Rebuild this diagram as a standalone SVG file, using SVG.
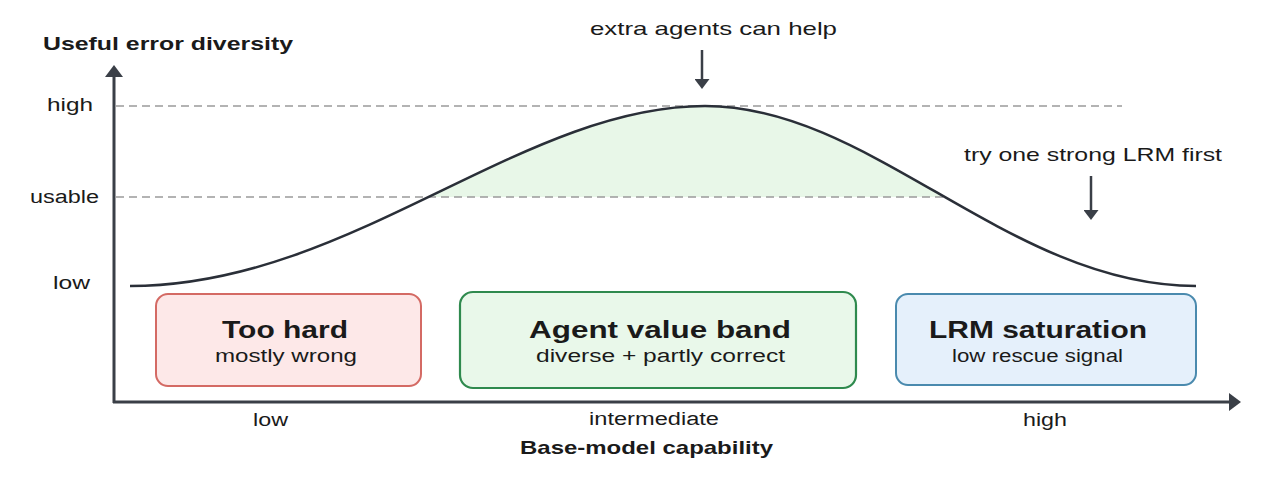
<svg xmlns="http://www.w3.org/2000/svg" width="1280" height="479" viewBox="0 0 1280 479">
<style>
  text { font-family: "Liberation Sans", Arial, sans-serif; fill: #1a1a1a; }
  .lbl { font-size: 18px; }
  .ann { font-size: 18.5px; }
  .ttl { font-size: 18.5px; font-weight: bold; }
  .btitle { font-size: 24px; font-weight: bold; }
  .bsub { font-size: 18px; }
  .axis { stroke: #3a3f47; stroke-width: 3; fill: none; }
  .dash { stroke: #9a9a9a; stroke-width: 1.3; stroke-dasharray: 8 5; fill: none; }
  .curve { stroke: #2a2f38; stroke-width: 2.5; fill: none; }
  .pointer { stroke: #3a3f47; stroke-width: 2.5; fill: none; }
</style>
<defs>
  <marker id="axisHead" viewBox="0 0 12 18" refX="6" refY="9" markerWidth="12" markerHeight="18" markerUnits="userSpaceOnUse" orient="auto">
    <path d="M0,0 L12,9 L0,18 Z" fill="#3a3f47"/>
  </marker>
  <marker id="ptrHead" viewBox="0 0 10 15" refX="5" refY="7.5" markerWidth="10" markerHeight="15" markerUnits="userSpaceOnUse" orient="auto">
    <path d="M0,0 L10,7.5 L0,15 Z" fill="#3a3f47"/>
  </marker>
  <clipPath id="aboveUsable">
    <rect x="0" y="0" width="1280" height="197"/>
  </clipPath>
</defs>
<rect x="0" y="0" width="1280" height="479" fill="#ffffff"/>

<g id="band-fill">
  <path d="M130,286 C350,286 520,106 705,106 C872,106 1009,286 1196,286 L1196,300 L130,300 Z" fill="#e8f7e8" clip-path="url(#aboveUsable)"/>
</g>

<g id="gridlines">
  <line class="dash" x1="116" y1="106" x2="1122" y2="106"/>
  <line class="dash" x1="116" y1="197" x2="945" y2="197"/>
</g>

<g id="curve">
  <path class="curve" d="M130,286 C350,286 520,106 705,106 C872,106 1009,286 1196,286"/>
</g>

<g id="connectors">
  <path class="axis" d="M114,403 L114,71" marker-end="url(#axisHead)"/>
  <path class="axis" d="M113,402 L1235,402" marker-end="url(#axisHead)"/>
  <path class="pointer" d="M702,50 L702,84" marker-end="url(#ptrHead)"/>
  <path class="pointer" d="M1091,176 L1091,215" marker-end="url(#ptrHead)"/>
</g>

<g id="axis-labels">
  <text class="ttl" x="43" y="50" textLength="250" lengthAdjust="spacingAndGlyphs">Useful error diversity</text>
  <text class="lbl" x="47" y="111" textLength="46" lengthAdjust="spacingAndGlyphs">high</text>
  <text class="lbl" x="30" y="203" textLength="69" lengthAdjust="spacingAndGlyphs">usable</text>
  <text class="lbl" x="53" y="289" textLength="37" lengthAdjust="spacingAndGlyphs">low</text>
  <text class="lbl" x="253" y="426" textLength="35" lengthAdjust="spacingAndGlyphs">low</text>
  <text class="lbl" x="589" y="425" textLength="130" lengthAdjust="spacingAndGlyphs">intermediate</text>
  <text class="lbl" x="1023" y="426" textLength="44" lengthAdjust="spacingAndGlyphs">high</text>
  <text class="ttl" x="520" y="454" textLength="253" lengthAdjust="spacingAndGlyphs">Base-model capability</text>
</g>

<g id="annotations">
  <text class="ann" x="590" y="35" textLength="247" lengthAdjust="spacingAndGlyphs">extra agents can help</text>
  <text class="ann" x="964" y="161" textLength="258" lengthAdjust="spacingAndGlyphs">try one strong LRM first</text>
</g>

<g id="node-too-hard">
  <rect x="156" y="294" width="265" height="92" rx="12" fill="#fde8e8" stroke="#d46a64" stroke-width="2"/>
  <text class="btitle" x="222" y="338" textLength="126" lengthAdjust="spacingAndGlyphs">Too hard</text>
  <text class="bsub" x="215" y="362" textLength="142" lengthAdjust="spacingAndGlyphs">mostly wrong</text>
</g>

<g id="node-agent-band">
  <rect x="460" y="292" width="396" height="96" rx="13" fill="#e9f8ea" stroke="#2f8a4e" stroke-width="2.2"/>
  <text class="btitle" x="529" y="338" textLength="262" lengthAdjust="spacingAndGlyphs">Agent value band</text>
  <text class="bsub" x="536" y="362" textLength="249" lengthAdjust="spacingAndGlyphs">diverse + partly correct</text>
</g>

<g id="node-lrm">
  <rect x="896" y="294" width="300" height="91" rx="12" fill="#e5f0fb" stroke="#4a8aae" stroke-width="2"/>
  <text class="btitle" x="929" y="338" textLength="218" lengthAdjust="spacingAndGlyphs">LRM saturation</text>
  <text class="bsub" x="952" y="362" textLength="171" lengthAdjust="spacingAndGlyphs">low rescue signal</text>
</g>
</svg>
